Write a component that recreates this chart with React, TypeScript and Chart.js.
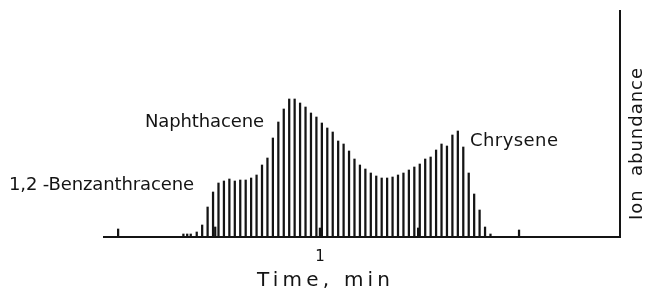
import React, { useEffect, useRef } from "react";
import { Chart, registerables } from "chart.js";

Chart.register(...registerables);

// Scan times (min) of the recorded scans
const SCAN_TIMES: number[] = [
  0.271, 0.511, 0.525, 0.538,
  0.56, 0.58, 0.6, 0.62, 0.628, 0.64, 0.66, 0.68, 0.7, 0.72, 0.74, 0.76, 0.78, 0.8,
  0.82, 0.84, 0.86, 0.88, 0.9, 0.92, 0.94, 0.96, 0.98, 1.0, 1.013, 1.02, 1.04, 1.06,
  1.08, 1.1, 1.12, 1.14, 1.16, 1.18, 1.2, 1.22, 1.24, 1.26, 1.28, 1.3, 1.32, 1.34,
  1.36, 1.374, 1.38, 1.4, 1.42, 1.44, 1.46, 1.48, 1.5, 1.52, 1.54, 1.56, 1.58, 1.6,
  1.62, 1.64, 1.745,
];

// Ion abundance (arbitrary units) at each scan
const ABUNDANCE: number[] = [
  8, 3, 3, 3,
  5, 12, 30, 45, 10, 54, 56, 58, 56, 57, 57, 59, 62, 72,
  79, 99, 115, 128, 138, 138, 134, 130, 124, 120, 9, 114, 109, 105,
  96, 93, 86, 78, 72, 68, 64, 61, 59, 59, 60, 62, 64, 67,
  70, 9, 73, 78, 80, 87, 93, 91, 102, 106, 90, 64, 43, 27,
  10, 3, 7,
];

const X_MIN = 0.2154;
const X_MAX = 2.1162;
const Y_MAX = 227;

const TICK_VALUES: number[] = [1];
const TICK_LABELS: string[] = ["1"];

const X_TITLE = "Time, min";
const Y_TITLE = "Ion  abundance";

const PEAK_LABELS: string[] = ["1,2 -Benzanthracene", "Naphthacene", "Chrysene"];

const FONT = '"DejaVu Sans", sans-serif';
const INK = "#141414";

function drawFitted(
  ctx: CanvasRenderingContext2D,
  text: string,
  x: number,
  y: number,
  size: number,
  width: number
) {
  ctx.font = `${size}px ${FONT}`;
  (ctx as any).letterSpacing = "0px";
  const w = ctx.measureText(text).width;
  const n = Math.max(1, text.length - 1);
  const sp = (width - w) / n;
  (ctx as any).letterSpacing = `${sp}px`;
  ctx.fillText(text, x, y);
  (ctx as any).letterSpacing = "0px";
}

const decorPlugin = {
  id: "decor",
  afterDraw(chart: any) {
    const { ctx, chartArea, scales } = chart;
    const xs = scales.x;
    ctx.save();
    ctx.strokeStyle = INK;
    ctx.fillStyle = INK;
    ctx.lineWidth = 2;
    // baseline
    ctx.beginPath();
    ctx.moveTo(chartArea.left, chartArea.bottom);
    ctx.lineTo(chartArea.right, chartArea.bottom);
    ctx.stroke();
    // right axis
    ctx.beginPath();
    ctx.moveTo(chartArea.right, chartArea.top);
    ctx.lineTo(chartArea.right, chartArea.bottom + 1);
    ctx.stroke();

    ctx.textAlign = "left";
    ctx.textBaseline = "alphabetic";
    // peak labels
    drawFitted(ctx, PEAK_LABELS[0], 9, 190, 18, 185);
    drawFitted(ctx, PEAK_LABELS[1], 145, 127, 18, 119);
    drawFitted(ctx, PEAK_LABELS[2], 470, 146, 18, 88);

    // tick labels
    ctx.font = `15px ${FONT}`;
    ctx.textAlign = "center";
    TICK_VALUES.forEach((v, i) => {
      ctx.fillText(TICK_LABELS[i], xs.getPixelForValue(v) + 3.5, chartArea.bottom + 24);
    });

    // x title
    ctx.textAlign = "left";
    drawFitted(ctx, X_TITLE, 257, 286, 20, 133);

    // y title (rotated)
    ctx.save();
    ctx.translate(642, 220);
    ctx.rotate(-Math.PI / 2);
    drawFitted(ctx, Y_TITLE, 0, 0, 18, 152);
    ctx.restore();

    ctx.restore();
  },
};

export default function App() {
  const ref = useRef<HTMLCanvasElement | null>(null);

  useEffect(() => {
    document.body.style.margin = "0";
    const canvas = ref.current;
    if (!canvas) return;
    const data = SCAN_TIMES.map((t, i) => ({ x: t, y: ABUNDANCE[i] }));
    const chart = new Chart(canvas, {
      type: "bar",
      data: {
        datasets: [
          {
            data: data as any,
            backgroundColor: INK,
            borderWidth: 0,
            barThickness: 1.6,
            grouped: false,
          } as any,
        ],
      },
      options: {
        animation: false,
        responsive: false,
        maintainAspectRatio: false,
        devicePixelRatio: 1,
        layout: { padding: { left: 103, right: 25, top: 10, bottom: 53 } },
        plugins: { legend: { display: false }, tooltip: { enabled: false } },
        scales: {
          x: { type: "linear", min: X_MIN, max: X_MAX, display: false, offset: false },
          y: { min: 0, max: Y_MAX, display: false },
        },
      },
      plugins: [decorPlugin],
    });
    return () => chart.destroy();
  }, []);

  return (
    <div style={{ width: 645, height: 290, background: "#fff" }}>
      <canvas ref={ref} width={645} height={290} style={{ display: "block" }} />
    </div>
  );
}
